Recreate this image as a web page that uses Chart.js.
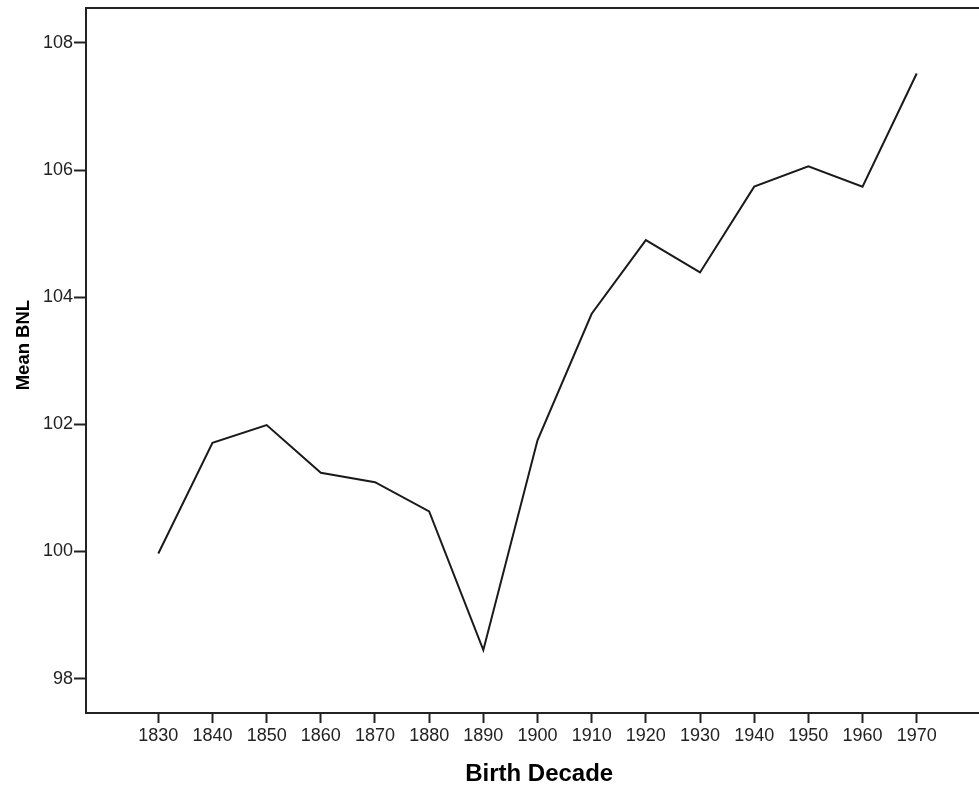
<!DOCTYPE html>
<html>
<head>
<meta charset="utf-8">
<script src="https://cdn.jsdelivr.net/npm/chart.js@4.4.1/dist/chart.umd.min.js"></script>
<style>
    body { margin: 0; background: #fff; }
</style>
</head>
<body>
<canvas id="chart" width="979" height="791"></canvas>
<script>
let decades = [1830, 1840, 1850, 1860, 1870, 1880, 1890, 1900, 1910, 1920, 1930, 1940, 1950, 1960, 1970];
let meanBNL = [99.97, 101.71, 101.99, 101.24, 101.09, 100.63, 98.45, 101.75, 103.74, 104.90, 104.39, 105.74, 106.06, 105.74, 107.52];
let yTicks = [98, 100, 102, 104, 106, 108];

let xMin = 1816.65, xMax = 1981.5;
let yMin = 97.46, yMax = 108.55;

let font = "'Liberation Sans', Arial, sans-serif";
let ink = "#222";

let points = [];
for(let i in decades) points.push({x: decades[i], y: meanBNL[i]});

Chart.defaults.font.family = font;
Chart.defaults.color = ink;

new Chart("chart", {
    type: "line",
    data: {
        datasets: [
            {
                data: points,
                borderColor: "#1a1a1a",
                borderWidth: 2,
                pointRadius: 0,
                tension: 0,
                fill: false,
                label: "Mean BNL"
            }
        ]
    },
    options: {
        responsive: false,
        animation: false,
        layout: {padding: 0},
        plugins: {
            legend: {display: false},
            tooltip: {enabled: false}
        },
        scales: {
            x: {
                type: "linear",
                position: "bottom",
                min: xMin,
                max: xMax,
                afterBuildTicks: s => { s.ticks = decades.map(v => ({value: v})); },
                afterFit: s => { s.height = 78; s.paddingLeft = 0; s.paddingRight = 0; },
                ticks: {
                    font: {size: 18},
                    color: ink,
                    padding: 2,
                    maxRotation: 0,
                    autoSkip: false,
                    callback: v => String(v)
                },
                grid: {
                    drawOnChartArea: false,
                    tickLength: 10,
                    tickWidth: 2,
                    tickColor: ink
                },
                border: {display: true, color: ink, width: 2},
                title: {
                    display: true,
                    // leading spaces nudge the title a little right, as in the original
                    text: "  Birth Decade",
                    font: {size: 24, weight: "bold", lineHeight: 1.2},
                    color: "#000",
                    padding: {top: 0, bottom: 2}
                }
            },
            xTop: {
                type: "linear",
                position: "top",
                min: xMin,
                max: xMax,
                afterFit: s => { s.height = 8; s.paddingLeft = 0; s.paddingRight = 0; },
                ticks: {display: false},
                grid: {display: false},
                border: {display: true, color: ink, width: 2}
            },
            y: {
                type: "linear",
                position: "left",
                min: yMin,
                max: yMax,
                afterBuildTicks: s => { s.ticks = yTicks.map(v => ({value: v})); },
                // fixed width, and no extra room asked for the top/bottom labels
                afterFit: s => { s.width = 86; s.paddingTop = 0; s.paddingBottom = 0; },
                ticks: {
                    font: {size: 18},
                    color: ink,
                    padding: 1,
                    callback: v => String(v)
                },
                grid: {
                    drawOnChartArea: false,
                    tickLength: 12,
                    tickWidth: 2,
                    tickColor: ink
                },
                border: {display: true, color: ink, width: 2},
                title: {
                    display: true,
                    text: "      Mean BNL",
                    font: {size: 18.5, weight: "bold", lineHeight: 1.3},
                    color: "#000",
                    padding: {top: 12, bottom: 0}
                }
            }
        }
    }
});
</script>
</body>
</html>
